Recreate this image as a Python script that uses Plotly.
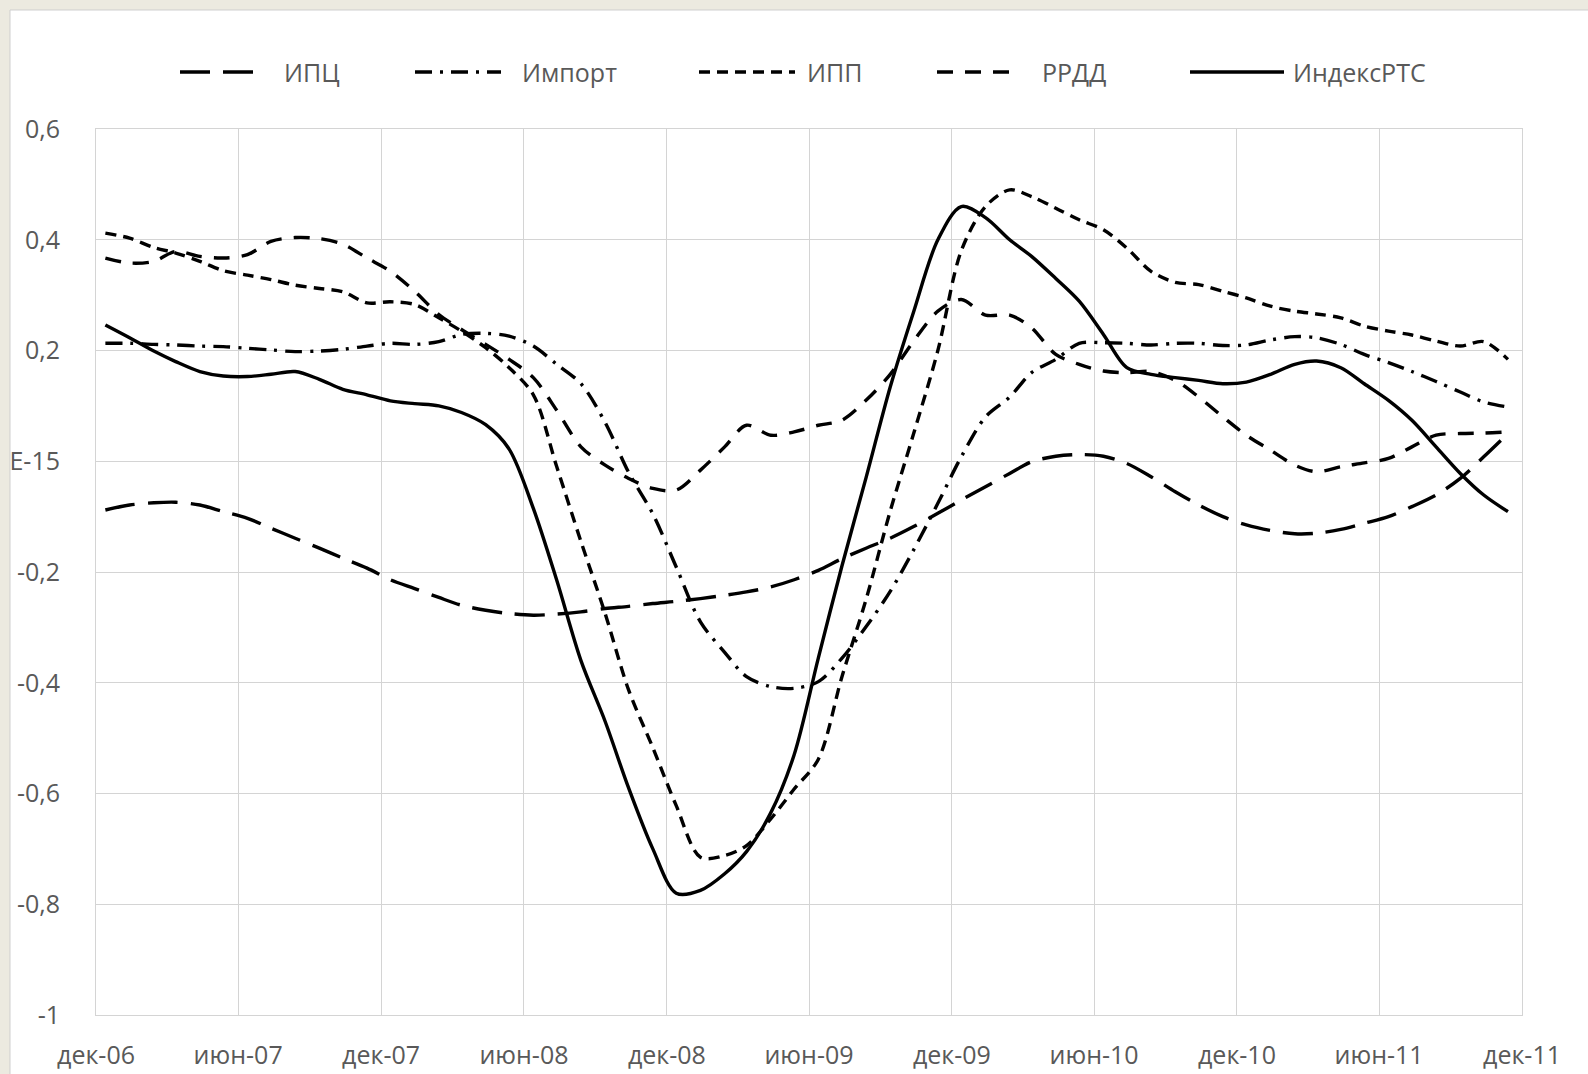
"""
Корреляция индикаторов (ИПЦ, Импорт, ИПП, РРДД, Индекс РТС), дек-06 … дек-11
Excel-style smoothed black lines, dashed patterns tell the series apart.
"""
# ── imports & theme ─────────────────────────────────────
import pandas as pd
import plotly.graph_objects as go

W, H = 1588, 1074
MARGIN = dict(l=96, r=66, t=129, b=59)
PAPER = "#ECEAE0"     # beige frame around the chart
TEXT = "#595959"
GRID = "#D4D4D4"
FONT = "Open Sans"

# ── data (monthly) ──────────────────────────────────────
SERIES = ["ИПЦ", "Импорт", "ИПП", "РРДД", "ИндексРТС"]

ipc = [-0.088, -0.079, -0.075, -0.074, -0.079, -0.091, -0.103, -0.121, -0.139, -0.157, -0.175, -0.193,
       -0.214, -0.230, -0.246, -0.260, -0.269, -0.275, -0.278, -0.276, -0.272,
       -0.266, -0.262, -0.257, -0.253, -0.248, -0.242, -0.236, -0.227, -0.214, -0.197, -0.176,
       -0.157, -0.139, -0.118, -0.094, -0.070, -0.046, -0.022, -0.001, 0.009,
       0.012, 0.009, -0.004, -0.028, -0.055, -0.079, -0.100, -0.115, -0.125, -0.131, -0.130,
       -0.123, -0.112, -0.100, -0.082, -0.061, -0.031, 0.008, 0.050]

imp = [0.213, 0.213, 0.211, 0.210, 0.208, 0.207, 0.204, 0.201, 0.198, 0.199, 0.202, 0.208,
       0.213, 0.211, 0.216, 0.229, 0.231, 0.226, 0.208, 0.175, 0.140,
       0.070, -0.020, -0.095, -0.191, -0.290, -0.345, -0.389, -0.407, -0.410, -0.398, -0.356,
       -0.299, -0.235, -0.160, -0.076, 0.008, 0.080, 0.116, 0.160, 0.184,
       0.213, 0.214, 0.213, 0.210, 0.213, 0.213, 0.209, 0.210, 0.219, 0.225, 0.223,
       0.211, 0.193, 0.178, 0.162, 0.144, 0.125, 0.107, 0.098]

ipp = [0.412, 0.403, 0.386, 0.376, 0.361, 0.344, 0.336, 0.328, 0.318, 0.312, 0.306, 0.286,
       0.288, 0.283, 0.259, 0.235, 0.205, 0.169, 0.120, -0.010, -0.145,
       -0.275, -0.413, -0.517, -0.622, -0.715, -0.712, -0.694, -0.646, -0.592, -0.538, -0.390,
       -0.250, -0.090, 0.050, 0.200, 0.380, 0.460, 0.490, 0.478, 0.457,
       0.436, 0.418, 0.385, 0.343, 0.323, 0.319, 0.307, 0.295, 0.280, 0.271, 0.266,
       0.259, 0.244, 0.235, 0.228, 0.217, 0.208, 0.216, 0.184]

rrdd = [0.367, 0.358, 0.361, 0.379, 0.370, 0.367, 0.373, 0.397, 0.404, 0.402, 0.392, 0.367,
        0.343, 0.307, 0.265, 0.238, 0.211, 0.184, 0.151, 0.092, 0.026,
        -0.007, -0.031, -0.049, -0.052, -0.016, 0.026, 0.065, 0.047, 0.053, 0.065, 0.074,
        0.110, 0.157, 0.217, 0.271, 0.292, 0.264, 0.264, 0.241, 0.193,
        0.175, 0.163, 0.160, 0.162, 0.146, 0.116, 0.080, 0.047, 0.020, -0.007, -0.019,
        -0.010, -0.003, 0.005, 0.026, 0.047, 0.050, 0.051, 0.053]

rts = [0.246, 0.223, 0.199, 0.180, 0.162, 0.154, 0.153, 0.157, 0.162, 0.148, 0.130, 0.120,
       0.109, 0.104, 0.100, 0.088, 0.066, 0.022, -0.085, -0.215, -0.360,
       -0.470, -0.590, -0.700, -0.780, -0.775, -0.745, -0.705, -0.635, -0.530, -0.355, -0.190,
       -0.030, 0.134, 0.270, 0.400, 0.460, 0.440, 0.400, 0.370, 0.330,
       0.289, 0.229, 0.169, 0.157, 0.151, 0.146, 0.140, 0.143, 0.157, 0.175, 0.181,
       0.169, 0.140, 0.110, 0.074, 0.026, -0.022, -0.061, -0.091]

VALUES = dict(zip(SERIES, [ipc, imp, ipp, rrdd, rts]))

# observations sit a little after the month boundary on Excel's date axis
months = pd.date_range("2006-12-01", periods=60, freq="MS") + pd.Timedelta(days=12)

tick_dates = pd.date_range("2006-12-01", "2011-12-01", freq="6MS")
tick_text = ["дек-06", "июн-07", "дек-07", "июн-08", "дек-08", "июн-09",
             "дек-09", "июн-10", "дек-10", "июн-11", "дек-11"]
y_ticks = [0.6, 0.4, 0.2, 0, -0.2, -0.4, -0.6, -0.8, -1]
y_text = ["0,6", "0,4", "0,2", "E-15", "-0,2", "-0,4", "-0,6", "-0,8", "-1"]

# ── line styles ─────────────────────────────────────────
DASH = {
    "ИПЦ": "30px,13px",
    "Импорт": "17px,8px,3px,8px",
    "ИПП": "11px,7px",
    "РРДД": "16px,12px",
    "ИндексРТС": "solid",
}
LW = 3.4

# hand-made legend (Excel draws long line samples), pixel positions on the page
LEG_Y = 72
LEG_LINE = {"ИПЦ": (180, 261), "Импорт": (415, 501), "ИПП": (699, 795),
            "РРДД": (937, 1018), "ИндексРТС": (1190, 1284)}
LEG_TEXT = {"ИПЦ": 282, "Импорт": 520, "ИПП": 805, "РРДД": 1040, "ИндексРТС": 1291}

PW = W - MARGIN["l"] - MARGIN["r"]
PH = H - MARGIN["t"] - MARGIN["b"]


def px(x):
    return (x - MARGIN["l"]) / PW


def py(y):
    return (H - MARGIN["b"] - y) / PH


# ── build figure ────────────────────────────────────────
fig = go.Figure()

for name in SERIES:
    fig.add_trace(go.Scatter(
        x=months, y=VALUES[name], name=name, mode="lines",
        line=dict(color="#000000", width=LW, dash=DASH[name],
                  shape="spline", smoothing=0.9),
        showlegend=False,
    ))

# white chart area on the beige page
fig.add_shape(type="rect", xref="paper", yref="paper",
              x0=px(10), x1=px(W + 20), y0=py(H + 20), y1=py(10),
              fillcolor="#FFFFFF", line=dict(color="#CFCFCF", width=1),
              layer="below")

for name in SERIES:
    x0, x1 = LEG_LINE[name]
    fig.add_shape(type="line", xref="paper", yref="paper",
                  x0=px(x0), x1=px(x1), y0=py(LEG_Y), y1=py(LEG_Y),
                  line=dict(color="#000000", width=LW, dash=DASH[name]))
    fig.add_annotation(xref="paper", yref="paper", x=px(LEG_TEXT[name]), y=py(LEG_Y),
                       text=name, showarrow=False, xanchor="left", yanchor="middle",
                       font=dict(family=FONT, size=25, color=TEXT))

# ── axes & layout ───────────────────────────────────────
fig.update_xaxes(
    type="date", range=[tick_dates[0], tick_dates[-1]],
    tickmode="array", tickvals=tick_dates, ticktext=tick_text,
    showgrid=True, gridcolor=GRID, gridwidth=1,
    showline=True, linecolor=GRID, mirror=True,
    zeroline=False, ticks="", ticklabelstandoff=18, automargin=False,
    tickfont=dict(family=FONT, size=25, color=TEXT),
)
fig.update_yaxes(
    range=[-1, 0.6], tickmode="array", tickvals=y_ticks, ticktext=y_text,
    showgrid=True, gridcolor=GRID, gridwidth=1,
    showline=True, linecolor=GRID, mirror=True,
    zeroline=False, ticks="", ticklabelstandoff=30, automargin=False,
    tickfont=dict(family=FONT, size=25, color=TEXT),
)

fig.update_layout(
    width=W, height=H, margin=MARGIN,
    paper_bgcolor=PAPER, plot_bgcolor="#FFFFFF",
    font=dict(family=FONT, color=TEXT),
    showlegend=False,
)

fig.write_html("out.html", config={"displayModeBar": False},
               post_script="document.body.style.margin='0';document.body.style.overflow='hidden';")
